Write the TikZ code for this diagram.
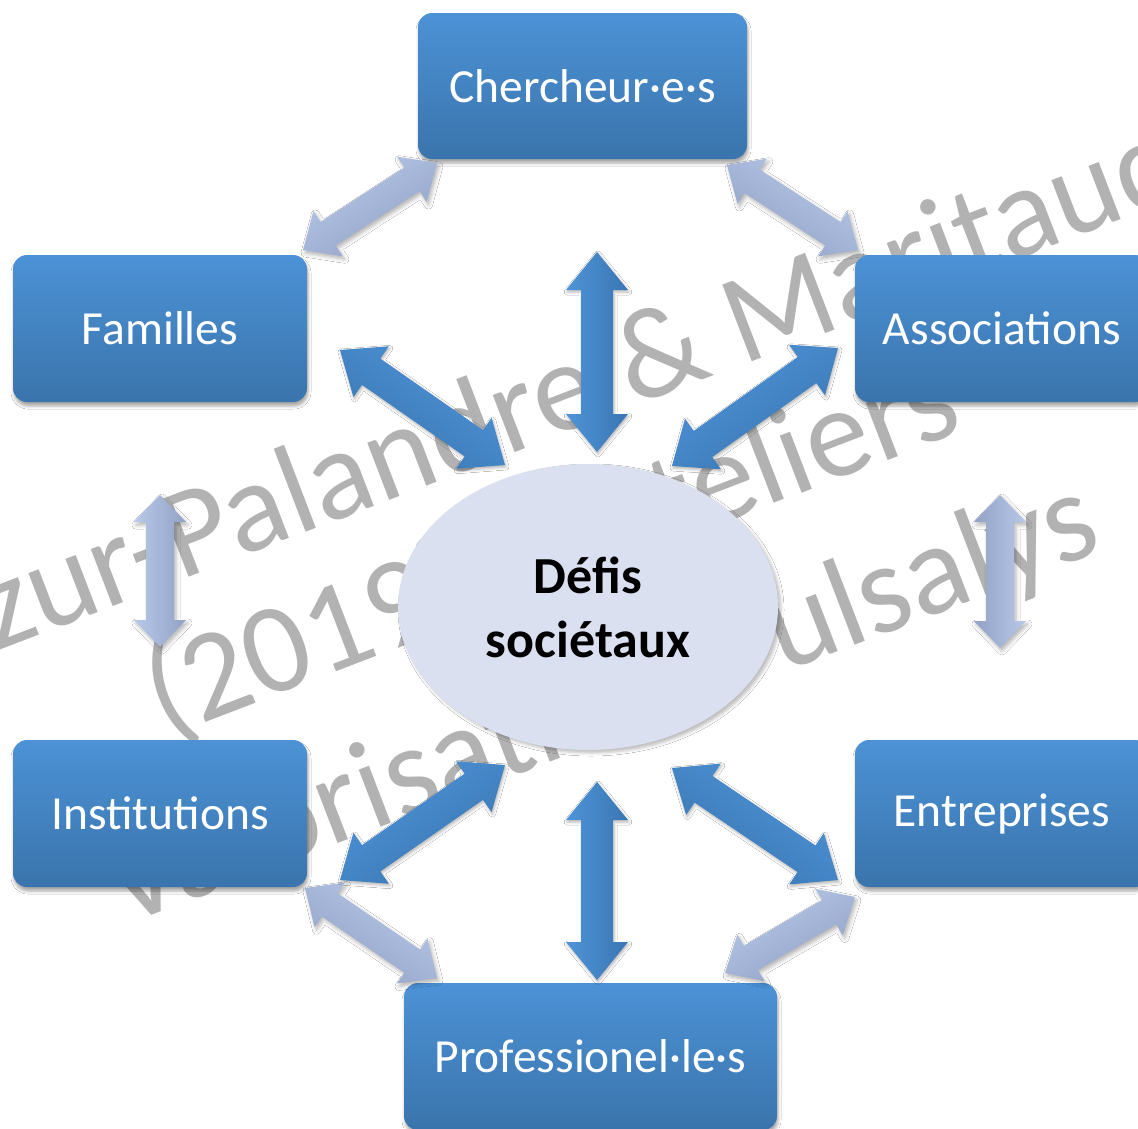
\documentclass[tikz,border=0pt]{standalone}
\usepackage{fontspec}
\setmainfont{Carlito}
\usetikzlibrary{calc,shadows.blur,shapes.geometric}

\definecolor{boxtop}{RGB}{76,146,214}
\definecolor{boxbot}{RGB}{58,116,172}
\definecolor{darkA}{RGB}{78,148,216}
\definecolor{darkB}{RGB}{58,118,178}
\definecolor{lightA}{RGB}{184,200,232}
\definecolor{lightB}{RGB}{146,162,198}
\definecolor{ellfill}{RGB}{218,224,239}
\definecolor{wmark}{RGB}{178,178,178}

\tikzset{
  box/.style={rectangle, rounded corners=14pt, minimum width=294pt, minimum height=147pt,
    inner sep=0pt, top color=boxtop, bottom color=boxbot, text=white,
    font=\fontsize{47.5}{57}\selectfont,
    blur shadow={shadow xshift=1pt, shadow yshift=-4pt, shadow blur radius=3pt, shadow opacity=35}},
  centre/.style={ellipse, minimum width=380pt, minimum height=286pt, inner sep=0pt,
    fill=ellfill, align=center, font=\bfseries\fontsize{52}{64}\selectfont,
    blur shadow={shadow xshift=3pt, shadow yshift=-3pt, shadow blur radius=3pt, shadow opacity=25}},
  wm/.style={text=wmark, inner sep=0pt, anchor=base west, rotate=21,
    font=\fontsize{128}{140}\selectfont},
  darkarr/.style={top color=darkA, bottom color=darkB, shading angle=#1,
    blur shadow={shadow xshift=1pt, shadow yshift=-2pt, shadow blur radius=3pt, shadow opacity=30}},
  lightarr/.style={top color=lightA, bottom color=lightB, shading angle=#1,
    blur shadow={shadow xshift=2pt, shadow yshift=-3pt, shadow blur radius=4pt, shadow opacity=30}},
}

% double arrow: #1 from, #2 to, #3 shaft half width, #4 head half width, #5 head length, #6 options
\newcommand{\dblarr}[6]{%
  \path[#6] (#1)
    -- ($(#1)!#5!(#2)!#4!90:(#2)$)
    -- ($(#1)!#5!(#2)!#3!90:(#2)$)
    -- ($(#2)!#5!(#1)!#3!270:(#1)$)
    -- ($(#2)!#5!(#1)!#4!270:(#1)$)
    -- (#2)
    -- ($(#2)!#5!(#1)!#4!90:(#1)$)
    -- ($(#2)!#5!(#1)!#3!90:(#1)$)
    -- ($(#1)!#5!(#2)!#3!270:(#2)$)
    -- ($(#1)!#5!(#2)!#4!270:(#2)$)
    -- cycle;}

\begin{document}
\begin{tikzpicture}[x=1pt, y=-1pt]
\useasboundingbox (0,0) rectangle (1138,1128);
\clip (0,0) rectangle (1138,1128);
\fill[white] (0,0) rectangle (1138,1128);

% watermark
\node[wm] (w1) at (-73,678) {Azur-Palandre \& Maritaud};
\node[wm] (w2) at (164,738) {(2019)\hspace{0.8em} Ateliers};
\node[wm] (w3) at (122,927) {Valorisation Pulsalys};

% boxes
\node[box, minimum width=329pt, minimum height=146pt] (cher) at (582.5,86) {Chercheur·e·s};
\node[box] (fam) at (160,328.5) {Familles};
\node[box] (asso) at (1002,328.5) {Associations};
\node[box] (inst) at (160,813.5) {Institutions};
\node[box] (entr) at (1002,813.5) {Entreprises};
\node[box, minimum width=373pt] (prof) at (590.5,1056.5) {Professionel·le·s};

% centre
\node[centre] (ctr) at (588,607) {Défis\\sociétaux};

% arrow end points
\coordinate (t1) at (597,452);  \coordinate (t2) at (597,252);
\coordinate (b1) at (597,980);  \coordinate (b2) at (597,782);
\coordinate (f1) at (340,350);  \coordinate (f2) at (505,465);
\coordinate (a1) at (672,466);  \coordinate (a2) at (838,348);
\coordinate (i1) at (340,880);  \coordinate (i2) at (505,765);
\coordinate (e1) at (672,768);  \coordinate (e2) at (838,880);

\coordinate (cf1) at (303,250); \coordinate (cf2) at (437,163);
\coordinate (ca1) at (727,165); \coordinate (ca2) at (858,250);
\coordinate (fi1) at (160,647); \coordinate (fi2) at (160,495);
\coordinate (ae1) at (1000,495); \coordinate (ae2) at (1000,648);
\coordinate (ip1) at (305,888); \coordinate (ip2) at (437,978);
\coordinate (ep1) at (725,973); \coordinate (ep2) at (855,897);

% light arrows between neighbouring boxes
\dblarr{cf1}{cf2}{14pt}{27pt}{30pt}{lightarr=33}
\dblarr{ca1}{ca2}{14pt}{27pt}{30pt}{lightarr=-33}
\dblarr{fi1}{fi2}{14pt}{26pt}{27pt}{lightarr=90}
\dblarr{ae1}{ae2}{14pt}{26pt}{27pt}{lightarr=-90}
\dblarr{ip1}{ip2}{14pt}{27pt}{30pt}{lightarr=-34}
\dblarr{ep1}{ep2}{14pt}{27pt}{30pt}{lightarr=30}

% dark arrows to the centre
\dblarr{t1}{t2}{16pt}{31pt}{38pt}{darkarr=90}
\dblarr{b1}{b2}{16pt}{31pt}{38pt}{darkarr=90}
\dblarr{f1}{f2}{16pt}{31pt}{38pt}{darkarr=-35}
\dblarr{a1}{a2}{16pt}{31pt}{38pt}{darkarr=35}
\dblarr{i1}{i2}{16pt}{31pt}{38pt}{darkarr=35}
\dblarr{e1}{e2}{16pt}{31pt}{38pt}{darkarr=-34}
\end{tikzpicture}
\end{document}
